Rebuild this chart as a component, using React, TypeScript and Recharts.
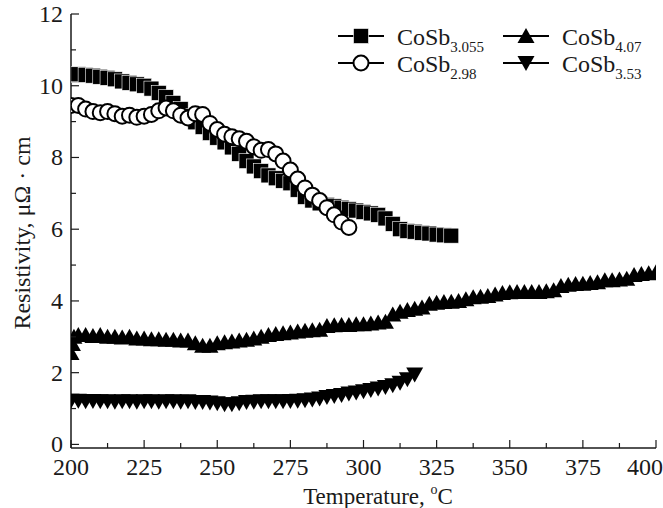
import { ScatterChart, Scatter, XAxis, YAxis, Legend, Label } from "recharts";

const FONT = "'Liberation Serif', 'Times New Roman', serif";
const INK = "#1a1a1a";

// CoSb3.055 (filled squares)
const tempSq = [
  200, 202.5, 205, 207.5, 210, 212.5, 215, 217.5, 220, 222.5, 225, 227.5, 230, 232.5, 235, 237.5,
  240, 242.5, 245, 247.5, 250, 252.5, 255, 257.5, 260, 262.5, 265, 267.5, 270, 272.5, 275, 277.5,
  280, 282.5, 285, 287.5, 290, 292.5, 295, 297.5, 300, 302.5, 305, 307.5, 310, 312.5, 315, 317.5,
  320, 322.5, 325, 327.5, 330,
];
const rhoSq = [
  10.3, 10.32, 10.3, 10.28, 10.25, 10.22, 10.18, 10.12, 10.08, 10.04, 10.0, 9.92, 9.8, 9.68, 9.52, 9.35,
  9.15, 8.98, 8.85, 8.68, 8.55, 8.42, 8.28, 8.1, 7.9, 7.75, 7.62, 7.5, 7.42, 7.35, 7.28, 7.1,
  6.9, 6.8, 6.72, 6.68, 6.64, 6.6, 6.56, 6.52, 6.48, 6.44, 6.4, 6.3, 6.15, 6.0, 5.95, 5.93,
  5.9, 5.88, 5.85, 5.83, 5.82,
];

// CoSb2.98 (open circles)
const tempCi = [
  200, 202.5, 205, 207.5, 210, 212.5, 215, 217.5, 220, 222.5, 225, 227.5, 230, 232.5, 235, 237.5,
  240, 242.5, 245, 247.5, 250, 252.5, 255, 257.5, 260, 262.5, 265, 267.5, 270, 272.5, 275, 277.5,
  280, 282.5, 285, 287.5, 290, 292.5, 295,
];
const rhoCi = [
  9.45, 9.45, 9.35, 9.28, 9.25, 9.28, 9.22, 9.15, 9.18, 9.12, 9.15, 9.2, 9.3, 9.38, 9.3, 9.18,
  9.1, 9.22, 9.2, 8.95, 8.78, 8.65, 8.58, 8.52, 8.45, 8.3, 8.2, 8.22, 8.1, 7.9, 7.65, 7.4,
  7.15, 6.95, 6.8, 6.6, 6.4, 6.2, 6.05,
];

// CoSb4.07 (up triangles)
const tempUp = [
  200, 200.5, 201, 202.5, 205, 207.5, 210, 212.5, 215, 217.5, 220, 222.5, 225, 227.5, 230, 232.5,
  235, 237.5, 240, 242.5, 245, 247.5, 250, 252.5, 255, 257.5, 260, 262.5, 265, 267.5, 270, 272.5,
  275, 277.5, 280, 282.5, 285, 287.5, 290, 292.5, 295, 297.5, 300, 302.5, 305, 307.5, 310, 312.5,
  315, 317.5, 320, 322.5, 325, 327.5, 330, 332.5, 335, 337.5, 340, 342.5, 345, 347.5, 350, 352.5,
  355, 357.5, 360, 362.5, 365, 367.5, 370, 372.5, 375, 377.5, 380, 382.5, 385, 387.5, 390, 392.5,
  395, 397.5, 400,
];
const rhoUp = [
  2.55, 2.8, 3.0, 3.05, 3.05, 3.02, 3.05, 3.0, 3.0, 2.98, 3.0, 2.95, 2.95, 2.93, 2.93, 2.92,
  2.92, 2.9, 2.9, 2.82, 2.75, 2.75, 2.82, 2.85, 2.87, 2.9, 2.92, 2.95, 3.0, 3.05, 3.08, 3.1,
  3.12, 3.15, 3.17, 3.18, 3.2, 3.3, 3.32, 3.33, 3.33, 3.35, 3.35, 3.37, 3.4, 3.42, 3.62, 3.7,
  3.75, 3.78, 3.82, 3.92, 3.95, 3.97, 3.98, 4.0, 4.05, 4.1, 4.12, 4.14, 4.18, 4.22, 4.24, 4.25,
  4.25, 4.25, 4.25, 4.27, 4.3, 4.42, 4.45, 4.47, 4.48, 4.5, 4.52, 4.58, 4.58, 4.6, 4.62, 4.72,
  4.75, 4.77, 4.8,
];

// CoSb3.53 (down triangles)
const tempDn = [
  200, 202.5, 205, 207.5, 210, 212.5, 215, 217.5, 220, 222.5, 225, 227.5, 230, 232.5, 235, 237.5,
  240, 242.5, 245, 247.5, 250, 252.5, 255, 257.5, 260, 262.5, 265, 267.5, 270, 272.5, 275, 277.5,
  280, 282.5, 285, 287.5, 290, 292.5, 295, 297.5, 300, 302.5, 305, 307.5, 310, 312.5, 315, 317.5,
];
const rhoDn = [
  1.22, 1.22, 1.2, 1.21, 1.2, 1.2, 1.19, 1.2, 1.2, 1.19, 1.2, 1.2, 1.19, 1.2, 1.2, 1.19,
  1.2, 1.18, 1.18, 1.17, 1.15, 1.12, 1.12, 1.15, 1.18, 1.19, 1.2, 1.2, 1.2, 1.2, 1.21, 1.22,
  1.23, 1.25, 1.28, 1.32, 1.35, 1.38, 1.42, 1.45, 1.48, 1.52, 1.56, 1.6, 1.65, 1.72, 1.82, 1.95,
];

const xTicks = [
  200, 212.5, 225, 237.5, 250, 262.5, 275, 287.5, 300, 312.5, 325, 337.5, 350, 362.5, 375, 387.5, 400,
];
const xLabels = [200, 225, 250, 275, 300, 325, 350, 375, 400];
const yTicks = [0, 1, 2, 3, 4, 5, 6, 7, 8, 9, 10, 11, 12];
const yLabels = [0, 2, 4, 6, 8, 10, 12];

const toRows = (ts: number[], rs: number[]) => ts.map((t, i) => ({ t, r: rs[i] }));
const sqData = toRows(tempSq, rhoSq);
const ciData = toRows(tempCi, rhoCi);
const upData = toRows(tempUp, rhoUp);
const dnData = toRows(tempDn, rhoDn);

const Square = ({ cx, cy }: any) => (
  <rect x={cx - 7.5} y={cy - 7.5} width={15} height={15} fill="#000" stroke="#fff" strokeWidth={0.6} />
);
const Circle = ({ cx, cy }: any) => (
  <circle cx={cx} cy={cy} r={7.5} fill="#fff" stroke="#000" strokeWidth={2} />
);
const TriUp = ({ cx, cy }: any) => (
  <polygon points={`${cx},${cy - 8} ${cx + 8.5},${cy + 7} ${cx - 8.5},${cy + 7}`} fill="#000" />
);
const TriDown = ({ cx, cy }: any) => (
  <polygon points={`${cx},${cy + 8} ${cx + 8.5},${cy - 7} ${cx - 8.5},${cy - 7}`} fill="#000" />
);

const XTick = ({ x, y, payload }: any) => {
  const v = payload.value;
  const major = xLabels.includes(v);
  return (
    <g>
      <line x1={x} x2={x} y1={y} y2={y - (major ? 8 : 5)} stroke={INK} strokeWidth={1.2} />
      {major && (
        <text x={v === 400 ? x - 11 : x} y={y + 27} textAnchor="middle" fontSize={24} fontFamily={FONT} fill={INK}>
          {v}
        </text>
      )}
    </g>
  );
};

const YTick = ({ x, y, payload }: any) => {
  const v = payload.value;
  const major = yLabels.includes(v);
  return (
    <g>
      <line x1={x} x2={x + (major ? 8 : 5)} y1={y} y2={y} stroke={INK} strokeWidth={1.2} />
      {major && (
        <text x={x - 8} y={y + 8} textAnchor="end" fontSize={24} fontFamily={FONT} fill={INK}>
          {v}
        </text>
      )}
    </g>
  );
};

const legendItems = [
  { name: "CoSb", sub: "3.055", Shape: Square, x: 338, y: 36 },
  { name: "CoSb", sub: "4.07", Shape: TriUp, x: 503, y: 36 },
  { name: "CoSb", sub: "2.98", Shape: Circle, x: 338, y: 63 },
  { name: "CoSb", sub: "3.53", Shape: TriDown, x: 503, y: 63 },
];

const LegendBox = () => (
  <svg width={663} height={100}>
    {legendItems.map(({ name, sub, Shape, x, y }) => (
      <g key={sub}>
        <line x1={x} x2={x + 46} y1={y} y2={y} stroke="#000" strokeWidth={2} />
        <Shape cx={x + 23} cy={y} />
        <text x={x + 59} y={y + 9} fontSize={24} fontFamily={FONT} fill={INK}>
          {name}
          <tspan fontSize={15} dy={7}>{sub}</tspan>
        </text>
      </g>
    ))}
  </svg>
);

export default function App() {
  return (
    <div style={{ position: "absolute", left: 0, top: 0 }}>
      <ScatterChart width={663} height={508} margin={{ top: 14, right: 7, bottom: 0, left: 0 }}>
        <XAxis
          dataKey="t"
          type="number"
          domain={[200, 400]}
          ticks={xTicks}
          interval={0}
          tick={<XTick />}
          tickLine={false}
          tickSize={0}
          tickMargin={0}
          height={60}
          axisLine={{ stroke: INK, strokeWidth: 1.5 }}
          allowDataOverflow
        >
          <Label
            content={() => (
              <text x={378} y={504} textAnchor="middle" fontSize={23} fontFamily={FONT} fill={INK}>
                Temperature,{" "}
                <tspan fontSize={14} dy={-10}>o</tspan>
                <tspan dy={10}>C</tspan>
              </text>
            )}
          />
        </XAxis>
        <XAxis
          xAxisId="top"
          orientation="top"
          type="number"
          domain={[200, 400]}
          height={0}
          tick={false}
          tickLine={false}
          axisLine={{ stroke: INK, strokeWidth: 1.5 }}
        />
        <YAxis
          dataKey="r"
          type="number"
          domain={[-0.1, 12]}
          ticks={yTicks}
          interval={0}
          tick={<YTick />}
          tickLine={false}
          tickSize={0}
          tickMargin={0}
          width={71}
          axisLine={{ stroke: INK, strokeWidth: 1.5 }}
          allowDataOverflow
        >
          <Label
            content={() => (
              <text
                x={30}
                y={233}
                transform="rotate(-90, 30, 233)"
                textAnchor="middle"
                fontSize={24}
                fontFamily={FONT}
                fill={INK}
              >
                Resistivity, μΩ · cm
              </text>
            )}
          />
        </YAxis>
        <YAxis
          yAxisId="right"
          orientation="right"
          type="number"
          domain={[-0.1, 12]}
          width={0}
          tick={false}
          tickLine={false}
          axisLine={{ stroke: INK, strokeWidth: 1.5 }}
        />
        <Scatter name="CoSb3.055" data={sqData} shape={Square} isAnimationActive={false} />
        <Scatter name="CoSb2.98" data={ciData} shape={Circle} isAnimationActive={false} />
        <Scatter name="CoSb4.07" data={upData} shape={TriUp} isAnimationActive={false} />
        <Scatter name="CoSb3.53" data={dnData} shape={TriDown} isAnimationActive={false} />
        <Legend
          layout="vertical"
          align="center"
          verticalAlign="middle"
          content={<LegendBox />}
          wrapperStyle={{ position: "absolute", left: 0, top: 0, width: 663, height: 100 }}
        />
      </ScatterChart>
    </div>
  );
}
